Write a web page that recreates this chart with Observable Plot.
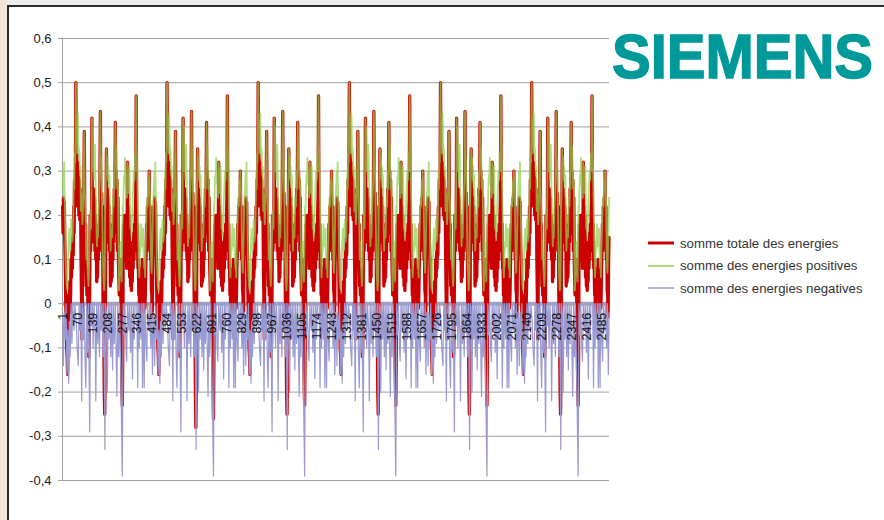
<!DOCTYPE html>
<html>
<head>
<meta charset="utf-8">
<script src="https://cdn.jsdelivr.net/npm/d3@7"></script>
<script src="https://cdn.jsdelivr.net/npm/@observablehq/plot@0.6"></script>
<style>
  html, body { margin: 0; padding: 0; }
  body { width: 884px; height: 520px; overflow: hidden; position: relative;
         background: linear-gradient(to right, #f3e3d8 0px, #efe7e1 7px, #ededed 8px, #ededed 100%);
         font-family: "Liberation Sans", Arial, sans-serif; }
  #frame { position: absolute; left: 7px; top: 5px; width: 900px; height: 540px;
           background: #fff; border: 2px solid #2b2b2b; }
  #chart { position: absolute; left: 0; top: 0; }
  #logo { position: absolute; left: 605px; top: 10px; }
  #legend { position: absolute; left: 648px; top: 232px; font-size: 13.2px; color: #333; }
  .row { display: flex; align-items: center; height: 22.5px; }
  .row svg { margin-right: 6px; }
</style>
</head>
<body>
<div id="frame"></div>
<div id="chart"></div>
<svg id="logo" width="276" height="90">
  <text transform="translate(7,68) scale(1,1.08)" x="0" y="0"
        font-family="Liberation Sans, Arial, sans-serif" font-weight="bold" font-size="58"
        fill="#009999" stroke="#009999" stroke-width="1.4">SIEMENS</text>
</svg>
<div id="legend"></div>
<script>
// Category axis labels (every 69th category) and value-axis ticks
const xTickLabels = [1,70,139,208,277,346,415,484,553,622,691,760,829,898,967,1036,1105,1174,1243,1312,1381,1450,1519,1588,1657,1726,1795,1864,1933,2002,2071,2140,2209,2278,2347,2416,2485];
const yTicks = [-0.4,-0.3,-0.2,-0.1,0,0.1,0.2,0.3,0.4,0.5,0.6];

// The series runs over 6 repeated cycles of 420 categories; first category of each cycle
const cycleStart = [1, 421, 841, 1261, 1681, 2101];

// somme totale des energies : positions inside a cycle, then the values read for each of the 6 cycles
const totalPos = [0,2,4,6,8,10,12,14,17,19,21,23,25,27,29,31,33,35,37,39,41,43,45,47,49,51,53,55,57,59,61,63,65,67,69,71,73,75,77,79,81,83,85,87,89,91,94,97,100,102,104,106,108,110,112,115,117,119,121,123,125,127,129,131,133,135,137,139,141,143,145,147,149,151,153,155,157,159,161,163,165,167,169,171,174,176,178,180,182,184,186,188,190,192,194,196,198,200,202,204,206,208,210,212,214,216,218,220,222,224,226,228,230,232,234,236,238,240,243,245,247,249,251,253,255,257,259,261,263,265,267,269,271,273,275,277,279,281,283,285,287,289,291,293,295,297,299,301,303,305,307,309,311,313,315,317,319,321,323,325,327,329,331,333,335,337,339,341,343,345,347,349,351,353,355,357,359,361,363,365,367,369,371,373,375,377,379,381,383,385,387,389,391,393,395,397,399,401,403,405,407,409,411,413,415,417];
const totalVal = [
.22,.16,.24,.18,.23,.14,.10,.02,-.06,-.10,-.12,-.16,-.10,-.03,.02,-.01,.05,-.02,.03,.10,.06,.12,.08,.15,.11,.22,.16,.28,.22,.30,.50,.30,.34,.24,.32,.22,.30,.20,.28,.19,.26,.22,.10,.02,-.08,.04,.15,.22,.39,.20,.14,.18,.04,.08,.02,.06,-.02,-.06,-.12,-.08,.05,.20,.12,.18,.14,.42,.20,.24,.14,.26,.16,.24,.12,.20,.10,.18,.05,.10,.06,.14,.10,.17,.12,.20,.435,.22,.16,.25,.18,.22,.02,-.05,-.08,-.20,-.25,-.15,.10,.20,.35,.18,.26,.15,.24,.14,.22,.12,.18,.04,.10,.05,.12,.06,.14,.10,.20,.14,.26,.18,.41,.22,.30,.16,.28,.12,.24,.10,.06,.02,.10,.04,.10,-.02,-.10,-.18,-.23,-.12,.10,.18,.12,.20,.10,.20,.12,.18,.08,.14,.32,.14,.22,.10,.20,.06,.12,.04,.12,.03,.10,.05,.14,.08,.16,.10,.18,.12,.20,.24,.47,.22,.14,.18,.08,.10,.02,.05,-.05,.02,.06,.01,.08,.03,.10,.04,.07,-.02,.02,.05,-.01,.02,.08,.12,.18,.12,.22,.15,.24,.18,.30,.16,.22,.10,.12,.03,.02,-.03,.08,.15,
.22,.16,.24,.18,.23,.14,.10,.02,-.06,-.10,-.12,-.16,-.10,-.03,.02,-.01,.05,-.02,.03,.10,.06,.12,.08,.15,.11,.22,.16,.28,.22,.30,.50,.30,.34,.24,.32,.22,.30,.20,.28,.19,.26,.22,.10,.02,-.08,.04,.15,.22,.39,.20,.14,.18,.04,.08,.02,.06,-.02,-.06,-.12,-.08,.05,.20,.12,.18,.14,.42,.20,.24,.14,.26,.16,.24,.12,.20,.10,.18,.05,.10,.06,.14,.10,.17,.12,.20,.435,.22,.16,.25,.18,.22,.02,-.05,-.08,-.20,-.28,-.15,.10,.20,.35,.18,.26,.15,.24,.14,.22,.12,.18,.04,.10,.05,.12,.06,.14,.10,.20,.14,.26,.18,.41,.22,.30,.16,.28,.12,.24,.10,.06,.02,.10,.04,.10,-.02,-.10,-.18,-.26,-.12,.10,.18,.12,.20,.10,.20,.12,.18,.08,.14,.32,.14,.22,.10,.20,.06,.12,.04,.12,.03,.10,.05,.14,.08,.16,.10,.18,.12,.20,.24,.47,.22,.14,.18,.08,.10,.02,.05,-.05,.02,.06,.01,.08,.03,.10,.04,.07,-.02,.02,.05,-.01,.02,.08,.12,.18,.12,.22,.15,.24,.18,.30,.16,.22,.10,.12,.03,.02,-.03,.08,.15,
.22,.16,.24,.18,.23,.14,.10,.02,-.06,-.10,-.12,-.16,-.10,-.03,.02,-.01,.05,-.02,.03,.10,.06,.12,.08,.15,.11,.22,.16,.28,.22,.30,.50,.30,.34,.24,.32,.22,.30,.20,.28,.19,.26,.22,.10,.02,-.08,.04,.15,.22,.39,.20,.14,.18,.04,.08,.02,.06,-.02,-.06,-.12,-.08,.05,.20,.12,.18,.14,.42,.20,.24,.14,.26,.16,.24,.12,.20,.10,.18,.05,.10,.06,.14,.10,.17,.12,.20,.435,.22,.16,.25,.18,.22,.02,-.05,-.08,-.20,-.25,-.15,.10,.20,.35,.18,.26,.15,.24,.14,.22,.12,.18,.04,.10,.05,.12,.06,.14,.10,.20,.14,.26,.18,.41,.22,.30,.16,.28,.12,.24,.10,.06,.02,.10,.04,.10,-.02,-.10,-.18,-.23,-.12,.10,.18,.12,.20,.10,.20,.12,.18,.08,.14,.32,.14,.22,.10,.20,.06,.12,.04,.12,.03,.10,.05,.14,.08,.16,.10,.18,.12,.20,.24,.47,.22,.14,.18,.08,.10,.02,.05,-.05,.02,.06,.01,.08,.03,.10,.04,.07,-.02,.02,.05,-.01,.02,.08,.12,.18,.12,.22,.15,.24,.18,.30,.16,.22,.10,.12,.03,.02,-.03,.08,.15,
.22,.16,.24,.18,.23,.14,.10,.02,-.06,-.10,-.12,-.16,-.10,-.03,.02,-.01,.05,-.02,.03,.10,.06,.12,.08,.15,.11,.22,.16,.28,.22,.30,.50,.30,.34,.24,.32,.22,.30,.20,.28,.19,.26,.22,.10,.02,-.08,.04,.15,.22,.39,.20,.14,.18,.04,.08,.02,.06,-.02,-.06,-.12,-.08,.05,.20,.12,.18,.14,.42,.20,.24,.14,.26,.16,.24,.12,.20,.10,.18,.05,.10,.06,.14,.10,.17,.12,.20,.435,.22,.16,.25,.18,.22,.02,-.05,-.08,-.20,-.25,-.15,.10,.20,.35,.18,.26,.15,.24,.14,.22,.12,.18,.04,.10,.05,.12,.06,.14,.10,.20,.14,.26,.18,.41,.22,.30,.16,.28,.12,.24,.10,.06,.02,.10,.04,.10,-.02,-.10,-.18,-.23,-.12,.10,.18,.12,.20,.10,.20,.12,.18,.08,.14,.32,.14,.22,.10,.20,.06,.12,.04,.12,.03,.10,.05,.14,.08,.16,.10,.18,.12,.20,.24,.47,.22,.14,.18,.08,.10,.02,.05,-.05,.02,.06,.01,.08,.03,.10,.04,.07,-.02,.02,.05,-.01,.02,.08,.12,.18,.12,.22,.15,.24,.18,.30,.16,.22,.10,.12,.03,.02,-.03,.08,.15,
.22,.16,.24,.18,.23,.14,.10,.02,-.06,-.10,-.12,-.16,-.10,-.03,.02,-.01,.05,-.02,.03,.10,.06,.12,.08,.15,.11,.22,.16,.28,.22,.30,.50,.30,.34,.24,.32,.22,.30,.20,.28,.19,.26,.22,.10,.02,-.08,.04,.15,.22,.39,.20,.14,.18,.04,.08,.02,.06,-.02,-.06,-.12,-.08,.05,.20,.12,.18,.14,.42,.20,.24,.14,.26,.16,.24,.12,.20,.10,.18,.05,.10,.06,.14,.10,.17,.12,.20,.435,.22,.16,.25,.18,.22,.02,-.05,-.08,-.20,-.25,-.15,.10,.20,.35,.18,.26,.15,.24,.14,.22,.12,.18,.04,.10,.05,.12,.06,.14,.10,.20,.14,.26,.18,.41,.22,.30,.16,.28,.12,.24,.10,.06,.02,.10,.04,.10,-.02,-.10,-.18,-.23,-.12,.10,.18,.12,.20,.10,.20,.12,.18,.08,.14,.32,.14,.22,.10,.20,.06,.12,.04,.12,.03,.10,.05,.14,.08,.16,.10,.18,.12,.20,.24,.47,.22,.14,.18,.08,.10,.02,.05,-.05,.02,.06,.01,.08,.03,.10,.04,.07,-.02,.02,.05,-.01,.02,.08,.12,.18,.12,.22,.15,.24,.18,.30,.16,.22,.10,.12,.03,.02,-.03,.08,.15,
.22,.16,.24,.18,.23,.14,.10,.02,-.06,-.10,-.12,-.16,-.10,-.03,.02,-.01,.05,-.02,.03,.10,.06,.12,.08,.15,.11,.22,.16,.28,.22,.30,.50,.30,.34,.24,.32,.22,.30,.20,.28,.19,.26,.22,.10,.02,-.08,.04,.15,.22,.39,.20,.14,.18,.04,.08,.02,.06,-.02,-.06,-.12,-.08,.05,.20,.12,.18,.14,.42,.20,.24,.14,.26,.16,.24,.12,.20,.10,.18,.05,.10,.06,.14,.10,.17,.12,.20,.435,.22,.16,.25,.18,.22,.02,-.05,-.08,-.20,-.25,-.15,.10,.20,.35,.18,.26,.15,.24,.14,.22,.12,.18,.04,.10,.05,.12,.06,.14,.10,.20,.14,.26,.18,.41,.22,.30,.16,.28,.12,.24,.10,.06,.02,.10,.04,.10,-.02,-.10,-.18,-.23,-.12,.10,.18,.12,.20,.10,.20,.12,.18,.08,.14,.32,.14,.22,.10,.20,.06,.12,.04,.12,.03,.10,.05,.14,.08,.16,.10,.18,.12,.20,.24,.47,.22,.14,.18,.08,.10,.02,.05,-.05,.02,.06,.01,.08,.03,.10,.04,.07,-.02,.02,.05,-.01,.02,.08,.12,.18,.12,.22,.15,.24,.18,.30,.16,.22,.10,.12,.03,.02,-.03,.08,.15
];

// somme des energies positives
const positivePos = [0,3,5,7,9,12,14,16,19,22,24,26,28,31,33,36,38,40,43,46,49,52,54,56,58,61,63,66,68,71,73,75,77,80,82,84,86,89,91,93,95,97,100,102,105,107,109,111,114,116,119,121,124,127,129,131,133,135,137,139,141,144,146,149,151,153,155,158,161,163,165,168,171,174,176,178,180,182,184,186,189,191,194,196,199,202,204,207,209,211,213,216,218,221,223,225,228,232,235,238,240,243,245,248,250,252,254,256,258,260,262,265,267,270,272,274,277,279,281,283,285,288,290,293,296,299,301,303,305,308,310,312,314,317,319,322,325,328,331,334,336,339,341,344,346,348,350,353,355,357,359,362,364,366,368,371,373,376,378,380,382,385,387,390,392,395,397,399,401,404,406,408,410,413,415,418];
const positiveVal = [
.26,.30,.24,.32,.26,.18,.10,.07,.04,.03,.08,.10,.14,.17,.13,.12,.16,.19,.14,.15,.20,.30,.26,.34,.32,.50,.36,.38,.34,.43,.36,.33,.35,.29,.31,.21,.25,.23,.18,.20,.24,.30,.39,.26,.22,.18,.10,.14,.10,.07,.04,.06,.14,.21,.19,.17,.25,.42,.34,.40,.30,.33,.28,.36,.30,.24,.20,.13,.18,.15,.20,.24,.28,.435,.34,.32,.28,.22,.15,.09,.05,.03,.06,.20,.26,.35,.30,.33,.28,.31,.27,.29,.22,.12,.16,.17,.15,.24,.22,.30,.26,.41,.36,.35,.30,.26,.28,.24,.10,.03,.06,.12,.14,.08,.05,.12,.22,.21,.26,.29,.27,.33,.28,.29,.24,.32,.27,.25,.28,.31,.24,.17,.20,.15,.18,.22,.26,.30,.28,.34,.30,.47,.36,.30,.24,.18,.12,.06,.10,.14,.12,.18,.15,.13,.16,.17,.12,.08,.10,.06,.12,.17,.21,.24,.22,.28,.26,.30,.27,.22,.14,.09,.07,.13,.18,.24,
.26,.30,.24,.32,.26,.18,.10,.07,.04,.03,.08,.10,.14,.17,.13,.12,.16,.19,.14,.15,.20,.30,.26,.34,.32,.50,.36,.38,.34,.43,.36,.33,.35,.29,.31,.21,.25,.23,.18,.20,.24,.30,.39,.26,.22,.18,.10,.14,.10,.07,.04,.06,.14,.21,.19,.17,.25,.42,.34,.40,.30,.33,.28,.36,.30,.24,.20,.13,.18,.15,.20,.24,.28,.435,.34,.32,.28,.22,.15,.09,.05,.03,.06,.20,.26,.35,.30,.33,.28,.31,.27,.29,.22,.12,.16,.17,.15,.24,.22,.30,.26,.41,.36,.35,.30,.26,.28,.24,.10,.03,.06,.12,.14,.08,.05,.12,.22,.21,.26,.29,.27,.33,.28,.29,.24,.32,.27,.25,.28,.31,.24,.17,.20,.15,.18,.22,.26,.30,.28,.34,.30,.47,.36,.30,.24,.18,.12,.06,.10,.14,.12,.18,.15,.13,.16,.17,.12,.08,.10,.06,.12,.17,.21,.24,.22,.28,.26,.30,.27,.22,.14,.09,.07,.13,.18,.24,
.26,.30,.24,.32,.26,.18,.10,.07,.04,.03,.08,.10,.14,.17,.13,.12,.16,.19,.14,.15,.20,.30,.26,.34,.32,.50,.36,.38,.34,.43,.36,.33,.35,.29,.31,.21,.25,.23,.18,.20,.24,.30,.39,.26,.22,.18,.10,.14,.10,.07,.04,.06,.14,.21,.19,.17,.25,.42,.34,.40,.30,.33,.28,.36,.30,.24,.20,.13,.18,.15,.20,.24,.28,.435,.34,.32,.28,.22,.15,.09,.05,.03,.06,.20,.26,.35,.30,.33,.28,.31,.27,.29,.22,.12,.16,.17,.15,.24,.22,.30,.26,.41,.36,.35,.30,.26,.28,.24,.10,.03,.06,.12,.14,.08,.05,.12,.22,.21,.26,.29,.27,.33,.28,.29,.24,.32,.27,.25,.28,.31,.24,.17,.20,.15,.18,.22,.26,.30,.28,.34,.30,.47,.36,.30,.24,.18,.12,.06,.10,.14,.12,.18,.15,.13,.16,.17,.12,.08,.10,.06,.12,.17,.21,.24,.22,.28,.26,.30,.27,.22,.14,.09,.07,.13,.18,.24,
.26,.30,.24,.32,.26,.18,.10,.07,.04,.03,.08,.10,.14,.17,.13,.12,.16,.19,.14,.15,.20,.30,.26,.34,.32,.50,.36,.38,.34,.43,.36,.33,.35,.29,.31,.21,.25,.23,.18,.20,.24,.30,.39,.26,.22,.18,.10,.14,.10,.07,.04,.06,.14,.21,.19,.17,.25,.42,.34,.40,.30,.33,.28,.36,.30,.24,.20,.13,.18,.15,.20,.24,.28,.435,.34,.32,.28,.22,.15,.09,.05,.03,.06,.20,.26,.35,.30,.33,.28,.31,.27,.29,.22,.12,.16,.17,.15,.24,.22,.30,.26,.41,.36,.35,.30,.26,.28,.24,.10,.03,.06,.12,.14,.08,.05,.12,.22,.21,.26,.29,.27,.33,.28,.29,.24,.32,.27,.25,.28,.31,.24,.17,.20,.15,.18,.22,.26,.30,.28,.34,.30,.47,.36,.30,.24,.18,.12,.06,.10,.14,.12,.18,.15,.13,.16,.17,.12,.08,.10,.06,.12,.17,.21,.24,.22,.28,.26,.30,.27,.22,.14,.09,.07,.13,.18,.24,
.26,.30,.24,.32,.26,.18,.10,.07,.04,.03,.08,.10,.14,.17,.13,.12,.16,.19,.14,.15,.20,.30,.26,.34,.32,.50,.36,.38,.34,.43,.36,.33,.35,.29,.31,.21,.25,.23,.18,.20,.24,.30,.39,.26,.22,.18,.10,.14,.10,.07,.04,.06,.14,.21,.19,.17,.25,.42,.34,.40,.30,.33,.28,.36,.30,.24,.20,.13,.18,.15,.20,.24,.28,.435,.34,.32,.28,.22,.15,.09,.05,.03,.06,.20,.26,.35,.30,.33,.28,.31,.27,.29,.22,.12,.16,.17,.15,.24,.22,.30,.26,.41,.36,.35,.30,.26,.28,.24,.10,.03,.06,.12,.14,.08,.05,.12,.22,.21,.26,.29,.27,.33,.28,.29,.24,.32,.27,.25,.28,.31,.24,.17,.20,.15,.18,.22,.26,.30,.28,.34,.30,.47,.36,.30,.24,.18,.12,.06,.10,.14,.12,.18,.15,.13,.16,.17,.12,.08,.10,.06,.12,.17,.21,.24,.22,.28,.26,.30,.27,.22,.14,.09,.07,.13,.18,.24,
.26,.30,.24,.32,.26,.18,.10,.07,.04,.03,.08,.10,.14,.17,.13,.12,.16,.19,.14,.15,.20,.30,.26,.34,.32,.50,.36,.38,.34,.43,.36,.33,.35,.29,.31,.21,.25,.23,.18,.20,.24,.30,.39,.26,.22,.18,.10,.14,.10,.07,.04,.06,.14,.21,.19,.17,.25,.42,.34,.40,.30,.33,.28,.36,.30,.24,.20,.13,.18,.15,.20,.24,.28,.435,.34,.32,.28,.22,.15,.09,.05,.03,.06,.20,.26,.35,.30,.33,.28,.31,.27,.29,.22,.12,.16,.17,.15,.24,.22,.30,.26,.41,.36,.35,.30,.26,.28,.24,.10,.03,.06,.12,.14,.08,.05,.12,.22,.21,.26,.29,.27,.33,.28,.29,.24,.32,.27,.25,.28,.31,.24,.17,.20,.15,.18,.22,.26,.30,.28,.34,.30,.47,.36,.30,.24,.18,.12,.06,.10,.14,.12,.18,.15,.13,.16,.17,.12,.08,.10,.06,.12,.17,.21,.24,.22,.28,.26,.30,.27,.22,.14,.09,.07,.13,.18,.24
];

// somme des energies negatives
const negativePos = [0,4,7,12,16,20,24,28,31,35,39,43,47,53,57,63,67,72,76,80,84,88,91,96,100,103,107,111,115,119,125,128,133,137,141,145,150,153,157,162,165,170,174,178,182,186,190,195,198,202,206,210,214,218,222,226,230,234,238,243,250,254,258,262,269,275,279,283,287,292,295,299,305,308,313,317,322,326,330,334,342,346,349,353,356,361,365,368,372,376,379,384,388,391,397,401,406,410,414,418];
const negativeVal = [
-.03,-.14,-.02,-.08,0,-.16,-.06,-.18,-.04,-.12,0,-.09,0,-.06,0,-.04,-.10,-.14,0,-.06,0,-.22,0,-.08,0,-.12,-.19,0,-.11,0,-.29,0,-.05,0,-.10,0,-.06,-.22,0,-.09,0,-.12,0,-.06,0,-.12,0,-.33,0,-.02,-.20,0,-.08,0,-.12,0,-.15,0,-.09,0,-.21,0,-.12,0,-.18,-.39,0,-.07,0,-.10,-.13,0,-.06,0,-.11,0,-.17,0,-.08,0,0,-.19,0,-.10,0,-.08,0,-.19,0,-.19,0,-.09,-.13,0,-.06,0,-.10,0,-.16,-.02,
-.03,-.14,-.02,-.08,0,-.16,-.06,-.18,-.04,-.12,0,-.09,0,-.06,0,-.04,-.10,-.14,0,-.06,0,-.22,0,-.08,0,-.12,-.19,0,-.11,0,-.29,0,-.05,0,-.10,0,-.06,-.22,0,-.09,0,-.12,0,-.06,0,-.12,0,-.33,0,-.02,-.20,0,-.08,0,-.12,0,-.15,0,-.09,0,-.21,0,-.12,0,-.18,-.39,0,-.07,0,-.10,-.13,0,-.06,0,-.11,0,-.17,0,-.08,0,0,-.19,0,-.10,0,-.08,0,-.19,0,-.19,0,-.09,-.13,0,-.06,0,-.10,0,-.16,-.02,
-.03,-.14,-.02,-.08,0,-.16,-.06,-.18,-.04,-.12,0,-.09,0,-.06,0,-.04,-.10,-.14,0,-.06,0,-.22,0,-.08,0,-.12,-.19,0,-.11,0,-.29,0,-.05,0,-.10,0,-.06,-.22,0,-.09,0,-.12,0,-.06,0,-.12,0,-.33,0,-.02,-.20,0,-.08,0,-.12,0,-.15,0,-.09,0,-.21,0,-.12,0,-.18,-.39,0,-.07,0,-.10,-.13,0,-.06,0,-.11,0,-.17,0,-.08,0,0,-.19,0,-.10,0,-.08,0,-.19,0,-.19,0,-.09,-.13,0,-.06,0,-.10,0,-.16,-.02,
-.03,-.14,-.02,-.08,0,-.16,-.06,-.18,-.04,-.12,0,-.09,0,-.06,0,-.04,-.10,-.14,0,-.06,0,-.22,0,-.08,0,-.12,-.19,0,-.11,0,-.29,0,-.05,0,-.10,0,-.06,-.22,0,-.09,0,-.12,0,-.06,0,-.12,0,-.33,0,-.02,-.20,0,-.08,0,-.12,0,-.15,0,-.09,0,-.21,0,-.12,0,-.18,-.39,0,-.07,0,-.10,-.13,0,-.06,0,-.11,0,-.17,0,-.08,0,0,-.19,0,-.10,0,-.08,0,-.19,0,-.19,0,-.09,-.13,0,-.06,0,-.10,0,-.16,-.02,
-.03,-.14,-.02,-.08,0,-.16,-.06,-.18,-.04,-.12,0,-.09,0,-.06,0,-.04,-.10,-.14,0,-.06,0,-.22,0,-.08,0,-.12,-.19,0,-.11,0,-.29,0,-.05,0,-.10,0,-.06,-.22,0,-.09,0,-.12,0,-.06,0,-.12,0,-.33,0,-.02,-.20,0,-.08,0,-.12,0,-.15,0,-.09,0,-.21,0,-.12,0,-.18,-.39,0,-.07,0,-.10,-.13,0,-.06,0,-.11,0,-.17,0,-.08,0,0,-.19,0,-.10,0,-.08,0,-.19,0,-.19,0,-.09,-.13,0,-.06,0,-.10,0,-.16,-.02,
-.03,-.14,-.02,-.08,0,-.16,-.06,-.18,-.04,-.12,0,-.09,0,-.06,0,-.04,-.10,-.14,0,-.06,0,-.22,0,-.08,0,-.12,-.19,0,-.11,0,-.29,0,-.05,0,-.10,0,-.06,-.22,0,-.09,0,-.12,0,-.06,0,-.12,0,-.33,0,-.02,-.20,0,-.08,0,-.12,0,-.15,0,-.09,0,-.21,0,-.12,0,-.18,-.39,0,-.07,0,-.10,-.13,0,-.06,0,-.11,0,-.17,0,-.08,0,0,-.19,0,-.10,0,-.08,0,-.19,0,-.19,0,-.09,-.13,0,-.06,0,-.10,0,-.16,-.02
];

const seriesNames = ["somme totale des energies", "somme des energies positives", "somme des energies negatives"];
const seriesColors = ["#cc0000", "#8fd14f", "#9a9ad2"];

function toRows(pos, vals) {
  if (vals.length !== pos.length * cycleStart.length) console.warn("length mismatch", pos.length, vals.length);
  return vals.map((v, i) => ({ x: cycleStart[Math.floor(i / pos.length)] + pos[i % pos.length], y: v }));
}
const totalRows = toRows(totalPos, totalVal);
const positiveRows = toRows(positivePos, positiveVal);
const negativeRows = toRows(negativePos, negativeVal);

const fmt = d => String(d).replace(".", ",");

const chart = Plot.plot({
  width: 620, height: 520,
  marginLeft: 62, marginRight: 11, marginTop: 38, marginBottom: 40,
  style: { background: "transparent", fontFamily: "Liberation Sans, Arial, sans-serif", overflow: "visible" },
  x: { domain: [0.5, 2520.5], axis: null },
  y: { domain: [-0.4, 0.6], axis: null },
  marks: [
    Plot.gridY(yTicks, { stroke: "#a0a0a0", strokeOpacity: 1, strokeWidth: 1 }),
    Plot.axisY({ ticks: yTicks, tickFormat: fmt, tickSize: 4, tickPadding: 7, stroke: "#a0a0a0", fill: "#1a1a1a", fontSize: 13, label: null }),
    Plot.ruleX([0.5], { stroke: "#a0a0a0", strokeWidth: 1 }),
    Plot.ruleY([0], { stroke: "#a3a3bf", strokeWidth: 4 }),
    Plot.line(totalRows, { x: "x", y: "y", stroke: seriesColors[0], strokeWidth: 3.3, strokeLinejoin: "round" }),
    Plot.line(positiveRows, { x: "x", y: "y", stroke: seriesColors[1], strokeWidth: 1.8, strokeOpacity: 0.72 }),
    Plot.line(negativeRows, { x: "x", y: "y", stroke: seriesColors[2], strokeWidth: 1.2 }),
    Plot.text(xTickLabels, { x: d => d, y: 0, text: d => String(d), rotate: -90, textAnchor: "end", dy: 9, fontSize: 12.5, fill: "#111" })
  ]
});
document.getElementById("chart").appendChild(chart);

// Legend
const legend = document.getElementById("legend");
seriesNames.forEach((name, i) => {
  const row = document.createElement("div");
  row.className = "row";
  const w = i === 0 ? 3 : 1.5;
  row.innerHTML = `<svg width="26" height="8"><line x1="0" x2="26" y1="4" y2="4" stroke="${seriesColors[i]}" stroke-width="${w}"/></svg><span>${name}</span>`;
  legend.appendChild(row);
});
</script>
</body>
</html>
